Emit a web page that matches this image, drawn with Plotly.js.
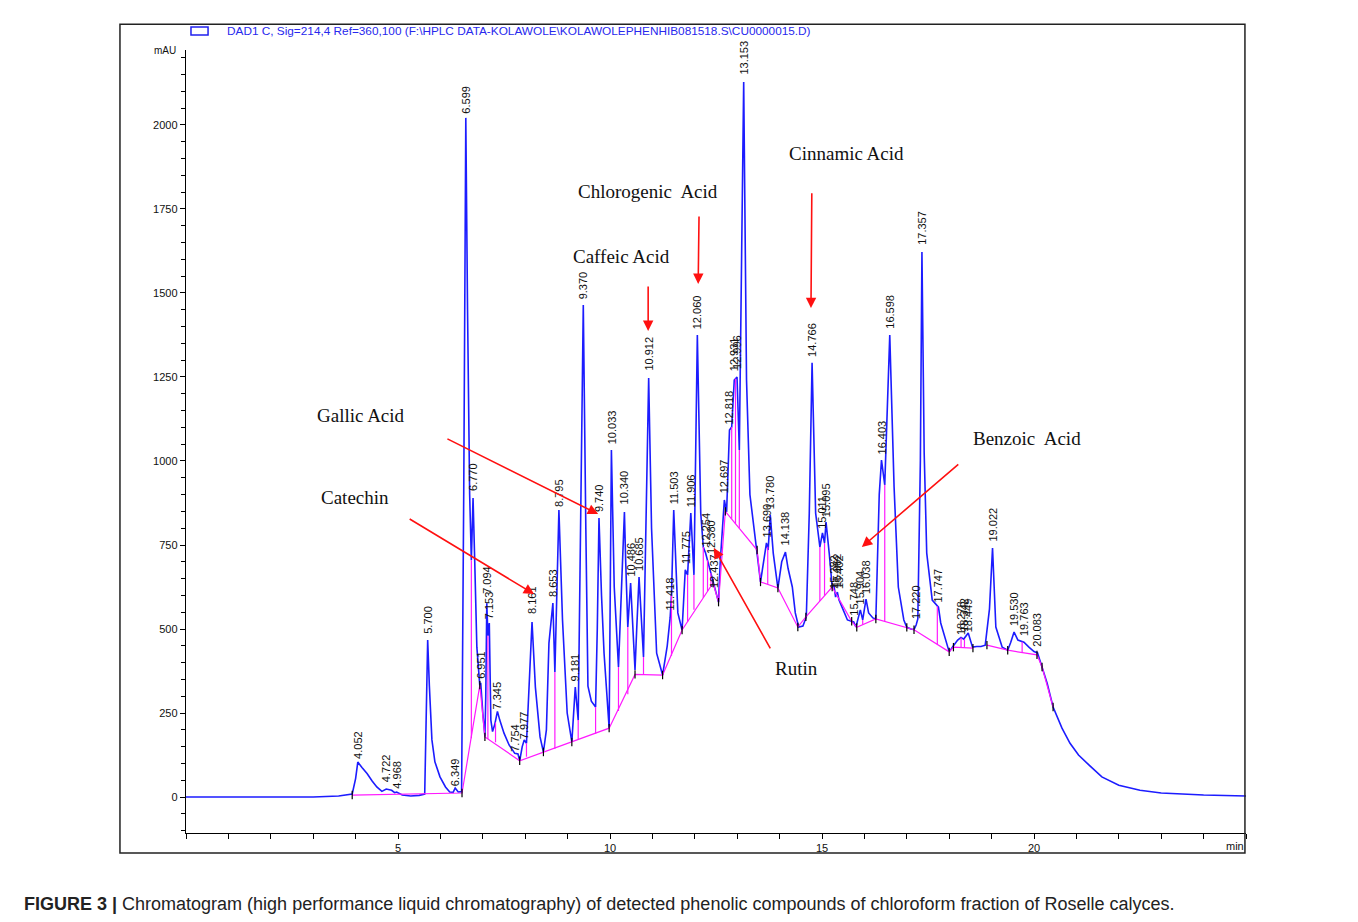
<!DOCTYPE html>
<html>
<head>
<meta charset="utf-8">
<script src="https://cdn.plot.ly/plotly-3.0.1.min.js"></script>
<style>html,body{margin:0;padding:0;background:#fff;}#chart{width:1358px;height:922px;}</style>
</head>
<body>
<div id="chart"></div>
<script>
// ---- Signal (DAD1 C, 214 nm): retention time (min) and absorbance (mAU)
const sigT = [0,3.0,3.6,3.92,4.0,4.052,4.15,4.27,4.39,4.5,4.62,4.722,4.85,4.92,4.968,5.1,5.3,5.5,5.63,5.67,5.700,5.74,5.8,5.87,5.99,6.12,6.22,6.3,6.349,6.42,6.5,6.55,6.599,6.64,6.69,6.73,6.770,6.81,6.86,6.93,6.951,7.0,7.05,7.07,7.094,7.12,7.153,7.19,7.23,7.28,7.345,7.4,7.5,7.62,7.754,7.83,7.87,7.93,7.977,8.03,8.08,8.161,8.24,8.35,8.43,8.5,8.56,8.62,8.653,8.70,8.75,8.795,8.88,8.99,9.1,9.181,9.25,9.3,9.370,9.43,9.48,9.56,9.66,9.7,9.740,9.8,9.86,9.98,10.0,10.033,10.1,10.2,10.28,10.340,10.37,10.42,10.486,10.59,10.63,10.685,10.79,10.85,10.912,10.98,11.1,11.24,11.35,11.418,11.45,11.503,11.6,11.7,11.775,11.83,11.906,11.98,12.02,12.060,12.14,12.2,12.254,12.3,12.380,12.437,12.5,12.56,12.6,12.697,12.75,12.818,12.87,12.931,12.996,13.05,13.153,13.22,13.3,13.45,13.55,13.690,13.73,13.780,13.85,13.96,14.05,14.138,14.2,14.3,14.37,14.45,14.55,14.63,14.7,14.766,14.85,14.95,15.011,15.06,15.095,15.17,15.24,15.282,15.32,15.362,15.402,15.5,15.6,15.748,15.8,15.904,15.96,16.038,16.1,16.2,16.27,16.35,16.403,16.48,16.598,16.7,16.8,16.93,17.0,17.1,17.17,17.220,17.26,17.32,17.357,17.41,17.47,17.6,17.747,17.8,17.9,18.0,18.1,18.2,18.278,18.342,18.449,18.55,18.65,18.75,18.85,18.95,19.022,19.1,19.25,19.38,19.45,19.530,19.62,19.763,19.88,20.0,20.083,20.19,20.31,20.45,20.66,20.85,21.05,21.3,21.6,22.0,22.5,23.0,24.0,25.0];
const sigV = [0,0,3,9,55,104,88,70,48,30,17,24,20,13,15,6,3,5,9,250,467,330,170,105,60,30,15,14,27,15,16,900,2021,1450,900,705,890,700,446,330,340,250,180,300,577,480,518,229,195,215,255,229,190,155,130,128,108,150,170,160,300,521,327,179,134,200,458,540,577,372,650,854,527,250,164,327,229,700,1464,800,330,285,268,500,830,600,428,205,500,1033,625,387,650,848,700,506,637,378,500,655,417,800,1247,800,428,363,450,533,600,854,548,497,676,661,845,661,1000,1375,845,744,726,705,667,637,607,580,700,884,848,1092,1101,1241,1250,1033,2128,1241,900,735,640,756,735,839,726,622,700,729,680,625,548,506,509,536,845,1292,845,744,786,756,818,726,625,630,595,610,586,557,527,521,506,557,527,589,548,533,530,900,1003,929,1375,923,625,527,505,500,498,512,530,1000,1622,1024,726,586,565,518,473,432,450,467,475,470,488,446,448,448,452,560,741,506,446,437,460,491,467,461,446,433,429,387,339,268,205,160,125,95,60,35,20,12,6,3];

// ---- Integration baseline (null = gap)
const baseT = [3.92,6.51,6.93,7.05,7.87,8.43,9.1,9.98,10.59,11.24,11.7,12.43,12.56,12.72,13.47,13.55,13.96,14.43,14.62,15.24,15.7,15.82,16.27,17.0,17.17,18.0,18.1,18.56,null,18.89,19.38,20.07,20.19,20.45];
const baseV = [6,12,333,179,108,134,164,205,365,363,497,637,580,850,735,640,622,506,536,625,523,505,530,505,498,432,446,443,null,452,437,423,387,268];

// ---- Peak drop lines: time, signal value, baseline value
const dropT   = [6.73,7.12,7.3,8.03,8.70,9.25,9.66,10.2,10.42,10.79,11.45,11.83,11.98,12.2,12.3,12.38,12.87,12.96,13.05,13.72,14.95,15.06,15.96,16.48,17.72,18.28,18.36,19.72];
const dropTop = [705,480,222,160,372,229,268,387,506,417,600,661,661,744,705,667,1101,1245,1033,745,744,756,527,929,568,475,470,462];
const dropBot = [175,173,163,120,144,172,188,256,306,364,420,521,557,592,612,627,828,813,800,633,583,599,513,523,455,445,444,430];

// ---- Retention-time labels and the height (mAU) at which each label starts
const peakLabels = ["4.052","4.722","4.968","5.700","6.349","6.599","6.770","6.951","7.094","7.153","7.345","7.754","7.977","8.161","8.653","8.795","9.181","9.370","9.740","10.033","10.340","10.486","10.685","10.912","11.418","11.503","11.775","11.906","12.060","12.254","12.380","12.437","12.697","12.818","12.931","12.996","13.153","13.690","13.780","14.138","14.766","15.011","15.095","15.282","15.362","15.402","15.748","15.904","16.038","16.403","16.598","17.220","17.357","17.747","18.278","18.342","18.449","19.022","19.530","19.763","20.083"];
const peakLabelV = [110,42,21,482,30,2030,908,348,601,527,259,131,170,542,592,860,342,1479,845,1048,869,652,670,1265,551,869,690,860,1390,741,720,620,902,1107,1265,1271,2146,771,854,747,1307,795,830,616,622,616,536,571,601,1018,1390,527,1640,577,479,488,488,756,506,476,443];

// ---- Identified compounds: name, label position, arrow tail and head (min, mAU)
const compNames = ["Gallic Acid","Catechin","Caffeic Acid","Chlorogenic  Acid","Cinnamic Acid","Benzoic  Acid","Rutin"];
const compLabelT = [4.13,3.99,10.28,10.90,15.57,19.83,14.41];
const compLabelV = [1134,890,1610,1801,1914,1068,384];
const arrowTailT = [6.13,5.24,10.90,12.10,14.76,18.25,13.80];
const arrowTailV = [1068,830,1524,1732,1801,994,438];
const arrowHeadT = [9.72,8.21,10.90,12.08,14.74,15.94,12.45];
const arrowHeadV = [842,604,1387,1527,1455,744,741];

const legendText = "DAD1 C, Sig=214,4 Ref=360,100 (F:\\HPLC DATA-KOLAWOLE\\KOLAWOLEPHENHIB081518.S\\CU0000015.D)";
const caption = "<b>FIGURE 3 |</b> Chromatogram (high performance liquid chromatography) of detected phenolic compounds of chloroform fraction of Roselle calyces.";

// ---- build traces
const dropX = [], dropY = [];
dropT.forEach((t, i) => { dropX.push(t, t, null); dropY.push(dropTop[i], dropBot[i], null); });

const traces = [
  { x: sigT, y: sigV, type: 'scatter', mode: 'lines', line: { color: '#1c1cff', width: 1.6 }, hoverinfo: 'skip' },
  { x: dropX, y: dropY, type: 'scatter', mode: 'lines', line: { color: '#ff1aff', width: 1.2 }, hoverinfo: 'skip' },
  { x: baseT, y: baseV, type: 'scatter', mode: 'lines+markers', connectgaps: false,
    line: { color: '#ff1aff', width: 1.2 },
    marker: { symbol: 'line-ns-open', size: 6, color: '#000', line: { color: '#000', width: 1.2 } }, hoverinfo: 'skip' }
];

const sans = 'Liberation Sans, Arial, sans-serif';
const serif = 'Liberation Serif, Times New Roman, serif';
const annotations = [];
peakLabels.forEach((lab, i) => {
  annotations.push({ x: parseFloat(lab), y: peakLabelV[i], xref: 'x', yref: 'y', text: lab, showarrow: false,
    textangle: -90, xanchor: 'center', yanchor: 'bottom', borderpad: 0,
    font: { family: sans, size: 11, color: '#111' } });
});
compNames.forEach((n, i) => {
  annotations.push({ x: compLabelT[i], y: compLabelV[i], xref: 'x', yref: 'y', text: n, showarrow: false,
    xanchor: 'center', yanchor: 'middle', font: { family: serif, size: 19, color: '#111' } });
  annotations.push({ x: arrowHeadT[i], y: arrowHeadV[i], xref: 'x', yref: 'y', ax: arrowTailT[i], ay: arrowTailV[i],
    axref: 'x', ayref: 'y', text: '', showarrow: true, arrowhead: 2, arrowsize: 1.3, arrowwidth: 1.6, arrowcolor: '#ff1010' });
});
annotations.push({ x: 0.0368, y: 1.0243, xref: 'paper', yref: 'paper', text: legendText, showarrow: false,
  xanchor: 'left', yanchor: 'middle', font: { family: sans, size: 11.8, color: '#2828ee' } });
annotations.push({ x: -0.02, y: 1.0, xref: 'paper', yref: 'paper', text: 'mAU', showarrow: false,
  xanchor: 'center', yanchor: 'middle', font: { family: sans, size: 10, color: '#111' } });
annotations.push({ x: 1.0, y: -0.0166, xref: 'paper', yref: 'paper', text: 'min', showarrow: false,
  xanchor: 'right', yanchor: 'middle', font: { family: sans, size: 11, color: '#111' } });
annotations.push({ x: -0.1547, y: -0.0907, xref: 'paper', yref: 'paper', text: caption, showarrow: false,
  xanchor: 'left', yanchor: 'middle', font: { family: sans, size: 18, color: '#222' } });

const layout = {
  width: 1358, height: 922,
  margin: { l: 186, r: 112, t: 50, b: 89 },
  paper_bgcolor: '#fff', plot_bgcolor: '#fff',
  showlegend: false,
  xaxis: { range: [0, 25], tickmode: 'array', tickvals: [5, 10, 15, 20], ticks: 'outside', ticklen: 5, tickcolor: '#000',
    showline: true, linecolor: '#000', linewidth: 1.2, showgrid: false, zeroline: false,
    minor: { dtick: 1, tick0: 0, ticks: 'outside', ticklen: 5, tickcolor: '#000', showgrid: false },
    tickfont: { family: sans, size: 11, color: '#111' } },
  yaxis: { range: [-107, 2223], tick0: 0, dtick: 250, ticks: 'outside', ticklen: 5, tickcolor: '#000',
    showline: true, linecolor: '#000', linewidth: 1.2, showgrid: false, zeroline: false,
    minor: { dtick: 50, tick0: 0, ticks: 'outside', ticklen: 4, tickcolor: '#000', showgrid: false },
    tickfont: { family: sans, size: 11, color: '#111' } },
  shapes: [
    { type: 'rect', xref: 'paper', yref: 'paper', x0: -0.0623, x1: 0.999, y0: -0.0255, y1: 1.033,
      line: { color: '#222', width: 1.5 }, fillcolor: 'rgba(0,0,0,0)', layer: 'above' },
    { type: 'rect', xref: 'paper', yref: 'paper', x0: 0.0047, x1: 0.0208, y0: 1.0192, y1: 1.0294,
      line: { color: '#2020ee', width: 1.5 }, fillcolor: 'rgba(0,0,0,0)' }
  ],
  annotations: annotations
};

Plotly.newPlot('chart', traces, layout, { staticPlot: true, displayModeBar: false });
</script>
</body>
</html>
